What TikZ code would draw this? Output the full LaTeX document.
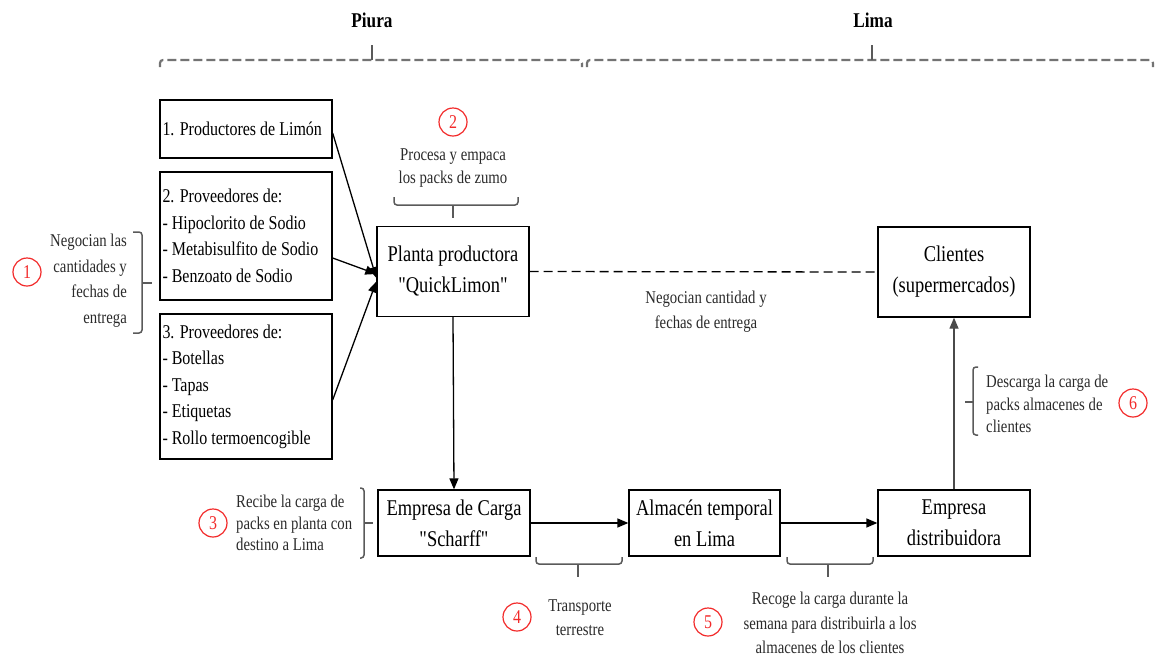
\documentclass[tikz,border=0pt]{standalone}
\usepackage{fontspec}
\setmainfont{Liberation Serif}[FakeStretch=0.82, Ligatures=TeXOff]
\usetikzlibrary{arrows.meta,calc}
\definecolor{brk}{HTML}{5A5A5A}
\definecolor{numred}{HTML}{F22A2A}
\definecolor{notegray}{HTML}{2A2A2A}
\definecolor{upline}{HTML}{4A4A4A}

\begin{document}
\begin{tikzpicture}[x=1pt,y=-1pt,
  box/.style={draw=black, line width=1.3pt, minimum width=152pt, minimum height=90pt,
    inner sep=2pt, align=center, font=\fontsize{22.5}{31}\selectfont},
  lbox/.style={draw=black, line width=1.3pt, text width=167pt, inner xsep=2.5pt,
    inner ysep=0pt, align=flush left, font=\fontsize{19.5}{26.5}\selectfont},
  note/.style={text=notegray, inner sep=0pt},
  num/.style={circle, draw=numred, line width=1.2pt, minimum size=28pt, inner sep=0pt,
    text=numred, font=\fontsize{19.5}{19.5}\selectfont},
  flow/.style={line width=1.3pt, -{Triangle[length=11pt,width=9pt]}},
  brace/.style={draw=brk, line width=1.5pt, rounded corners=3pt},
  topbrace/.style={draw=brk!85, line width=2.2pt, dash pattern=on 9pt off 4pt, rounded corners=3pt},
  region/.style={font=\bfseries\fontsize{21}{21}\selectfont},
]
\useasboundingbox (0,0) rectangle (1157,657);

% regions
\node[region] (piura) at (372,20) {Piura};
\node[region] (lima) at (873,20) {Lima};
\draw[topbrace] (160,67) -- (160,60) -- (582,60) -- (582,67);
\draw[brace] (372,60) -- (372,45);
\draw[topbrace] (587,67) -- (587,60) -- (1153,60) -- (1153,67);
\draw[brace] (872,60) -- (872,45);

% suppliers
\node[lbox, minimum height=58pt] (b1) at (246,129) {1. Productores de Limón};
\node[lbox, minimum height=128pt] (b2) at (246,236) {2. Proveedores de:\\- Hipoclorito de Sodio\\- Metabisulfito de Sodio\\- Benzoato de Sodio};
\node[lbox, minimum height=145pt] (b3) at (246,386.5) {3. Proveedores de:\\- Botellas\\- Tapas\\- Etiquetas\\- Rollo termoencogible};

% main chain
\node[box] (planta) at (453,271.5) {Planta productora\\"QuickLimon"};
\node[box] (clientes) at (954,272) {Clientes\\(supermercados)};
\node[box, minimum height=66pt] (carga) at (454,523) {Empresa de Carga\\"Scharff"};
\node[box, minimum width=151pt, minimum height=66pt] (almacen) at (704.5,523) {Almacén temporal\\en Lima};
\node[box, minimum height=66pt] (distrib) at (954,523) {Empresa\\distribuidora};

\draw[flow] ($(b1.east)+(0,4)$) -- ($(planta.west)+(0,6.5)$);
\draw[flow] ($(b2.east)+(0,22)$) -- ($(planta.west)+(0,2.5)$);
\draw[flow] ($(b3.east)+(0,13.5)$) -- ($(planta.west)+(0,10)$);
\draw[line width=1.3pt, dash pattern=on 9pt off 5pt] (planta.east) -- (clientes.west);
\draw[flow] (planta.south) -- (carga.north);
\draw[flow] (carga.east) -- (almacen.west);
\draw[flow] (almacen.east) -- (distrib.west);
\draw[flow, draw=upline] (distrib.north) -- (clientes.south);

\node[note, align=center, font=\fontsize{18}{25}\selectfont] (tneg) at (706,312) {Negocian cantidad y\\fechas de entrega};

% step 1
\node[num] (n1) at (27,272) {1};
\node[note, align=right, anchor=east, font=\fontsize{18}{25.5}\selectfont] (t1) at (127,280.5) {Negocian las\\cantidades y\\fechas de\\entrega};
\draw[brace] (133,232) -- (142,232) -- (142,333) -- (133,333);
\draw[brace] (142,283) -- (152,283);

% step 2
\node[num] (n2) at (453,122) {2};
\node[note, align=center, font=\fontsize{18}{23}\selectfont] (t2) at (453,168) {Procesa y empaca\\los packs de zumo};
\draw[brace] (394,197) -- (394,205) -- (518,205) -- (518,197);
\draw[brace] (453,205) -- (453,218);

% step 3
\node[num] (n3) at (213,523) {3};
\node[note, align=left, anchor=west, font=\fontsize{18}{21.7}\selectfont] (t3) at (236,523) {Recibe la carga de\\packs en planta con\\destino a Lima};
\draw[brace] (360,488) -- (364,488) -- (364,558) -- (360,558);
\draw[brace] (364,523) -- (373,523);

% step 4
\draw[brace] (536,557) -- (536,564) -- (622,564) -- (622,557);
\draw[brace] (578,564) -- (578,577);
\node[num] (n4) at (517,617) {4};
\node[note, align=center, font=\fontsize{18}{24}\selectfont] (t4) at (580,618) {Transporte\\terrestre};

% step 5
\draw[brace] (787,557) -- (787,564) -- (873,564) -- (873,557);
\draw[brace] (828,564) -- (828,577);
\node[num] (n5) at (708,622) {5};
\node[note, align=center, font=\fontsize{18}{24.5}\selectfont] (t5) at (830,623) {Recoge la carga durante la\\semana para distribuirla a los\\almacenes de los clientes};

% step 6
\draw[brace] (978,367) -- (973,367) -- (973,435) -- (978,435);
\draw[brace] (965,402) -- (973,402);
\node[note, align=left, anchor=west, font=\fontsize{18}{22.5}\selectfont] (t6) at (986,404) {Descarga la carga de\\packs almacenes de\\clientes};
\node[num] (n6) at (1133,403) {6};
\end{tikzpicture}
\end{document}
